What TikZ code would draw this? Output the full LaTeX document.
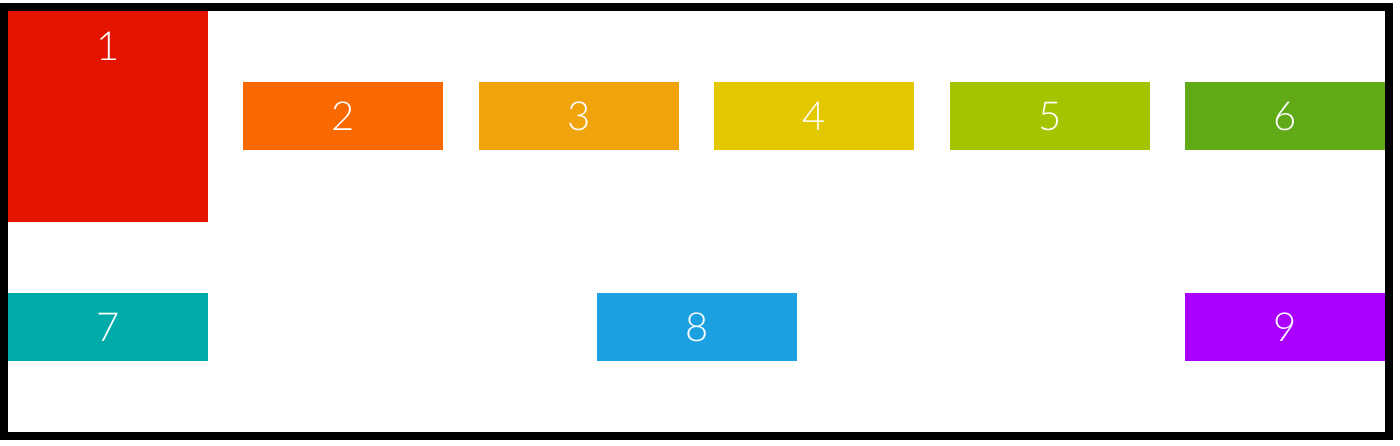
\documentclass[tikz,border=0pt]{standalone}
\usepackage{fontspec}
\setmainfont{Lato}[UprightFont={* Light}]
\definecolor{mRed}{HTML}{E51400}
\definecolor{mOrange}{HTML}{FA6800}
\definecolor{mAmber}{HTML}{F0A30A}
\definecolor{mYellow}{HTML}{E3C800}
\definecolor{mLime}{HTML}{A4C400}
\definecolor{mGreen}{HTML}{60A917}
\definecolor{mTeal}{HTML}{00ABA9}
\definecolor{mCyan}{HTML}{1BA1E2}
\definecolor{mViolet}{HTML}{AA00FF}
\tikzset{
  lbl/.style={text=white, inner sep=0pt, font=\fontsize{40}{48}\selectfont},
  frame/.style={draw=black, line width=8pt}
}
\begin{document}
\begin{tikzpicture}[x=1pt, y=-1pt]
\useasboundingbox[fill=white] (0,0) rectangle (1400,446);
\fill[mRed] (8,11) rectangle (208,222);
\fill[mOrange] (243,82) rectangle (443,150);
\fill[mAmber] (479,82) rectangle (679,150);
\fill[mYellow] (714,82) rectangle (914,150);
\fill[mLime] (950,82) rectangle (1150,150);
\fill[mGreen] (1185,82) rectangle (1385,150);
\fill[mTeal] (8,293) rectangle (208,361);
\fill[mCyan] (597,293) rectangle (797,361);
\fill[mViolet] (1185,293) rectangle (1385,361);
\node[lbl] (n1) at (108,46) {1};
\node[lbl] (n2) at (343,116.5) {2};
\node[lbl] (n3) at (579,116.5) {3};
\node[lbl] (n4) at (814,116.5) {4};
\node[lbl] (n5) at (1050,116.5) {5};
\node[lbl] (n6) at (1285,116.5) {6};
\node[lbl] (n7) at (108,327.5) {7};
\node[lbl] (n8) at (697,327.5) {8};
\node[lbl] (n9) at (1285,327.5) {9};
\draw[frame] (4,7) rectangle (1389,436);
\end{tikzpicture}
\end{document}
